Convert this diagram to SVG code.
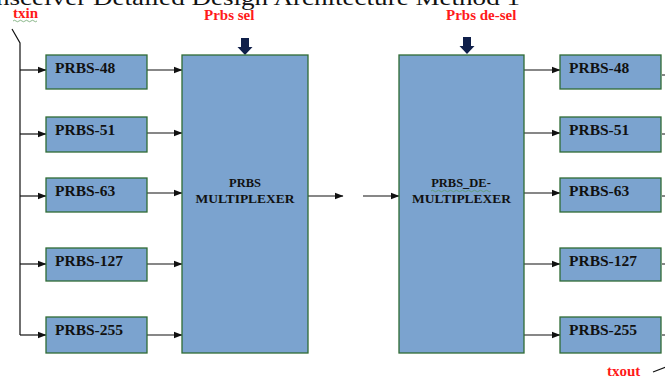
<svg xmlns="http://www.w3.org/2000/svg" width="665" height="378" viewBox="0 0 665 378">
<style>
.box{fill:#7BA3CF;stroke:#2F6B35;stroke-width:1.3}
.lbl{font-family:"Liberation Serif",serif;font-weight:bold;font-size:15.5px;fill:#111}
.big{font-family:"Liberation Serif",serif;font-weight:bold;font-size:12.5px;fill:#111;text-anchor:middle}
.red{font-family:"Liberation Serif",serif;font-weight:bold;font-size:15px;fill:#FF1A1A}
.ln{stroke:#111;stroke-width:1.2;fill:none}
.sel{fill:#0F1F4A}
</style>
<defs>
<marker id="ah" markerWidth="9" markerHeight="8" refX="8.5" refY="4" orient="auto" markerUnits="userSpaceOnUse">
<path d="M0,0.5 L9,4 L0,7.5 Z" fill="#111"/>
</marker>
</defs>
<text x="-4" y="5" font-family="Liberation Serif, serif" font-size="22" fill="#111" textLength="524" lengthAdjust="spacingAndGlyphs">nsceiver Detailed Design Architecture Method 1</text>
<g id="labels">
<text class="red" x="13" y="18" font-size="13">txin</text>
<path d="M13,21 q1.5,-1.5 3,0 t3,0 t3,0 t3,0 t3,0 t3,0 t3,0 t3,0" stroke="#5a9a5a" stroke-width="0.7" fill="none"/>
<text class="red" x="204" y="20">Prbs sel</text>
<text class="red" x="446" y="20">Prbs de-sel</text>
<text class="red" x="607" y="376">txout</text>
</g>
<g id="selarrows">
<path class="sel" d="M241,38 H249 V47 H252.5 L245,55 L237.5,47 H241 Z"/>
<path class="sel" d="M463,37 H471 V46 H474.5 L467,54 L459.5,46 H463 Z"/>
</g>
<g id="connectors">
<path class="ln" d="M12,29 L20,43 V335"/>
<path class="ln" d="M20,70 H46" marker-end="url(#ah)"/>
<path class="ln" d="M20,134 H46" marker-end="url(#ah)"/>
<path class="ln" d="M20,196 H46" marker-end="url(#ah)"/>
<path class="ln" d="M20,264 H46" marker-end="url(#ah)"/>
<path class="ln" d="M20,335 H46" marker-end="url(#ah)"/>
<path class="ln" d="M147,70 H182" marker-end="url(#ah)"/>
<path class="ln" d="M147,133 H182" marker-end="url(#ah)"/>
<path class="ln" d="M147,193 H182" marker-end="url(#ah)"/>
<path class="ln" d="M147,264 H182" marker-end="url(#ah)"/>
<path class="ln" d="M147,335 H182" marker-end="url(#ah)"/>
<path class="ln" d="M308,196 H343" marker-end="url(#ah)"/>
<path class="ln" d="M363,196 H399" marker-end="url(#ah)"/>
<path class="ln" d="M524,70 H560" marker-end="url(#ah)"/>
<path class="ln" d="M524,133 H560" marker-end="url(#ah)"/>
<path class="ln" d="M524,193 H560" marker-end="url(#ah)"/>
<path class="ln" d="M524,264 H560" marker-end="url(#ah)"/>
<path class="ln" d="M524,335 H560" marker-end="url(#ah)"/>
<path class="ln" d="M662,75 H666 M662,134 H666 M662,196 H666 M662,264 H666 M662,335 H666"/>
<path class="ln" d="M653,372 L666,367"/>
</g>
<g id="l48"><rect class="box" x="46" y="55" width="101" height="34"/><text class="lbl" x="55" y="73">PRBS-48</text></g>
<g id="l51"><rect class="box" x="46" y="117" width="101" height="35"/><text class="lbl" x="55" y="135">PRBS-51</text></g>
<g id="l63"><rect class="box" x="46" y="178" width="101" height="34"/><text class="lbl" x="55" y="196">PRBS-63</text></g>
<g id="l127"><rect class="box" x="46" y="248" width="101" height="33"/><text class="lbl" x="55" y="266">PRBS-127</text></g>
<g id="l255"><rect class="box" x="46" y="317" width="101" height="36"/><text class="lbl" x="55" y="335">PRBS-255</text></g>
<g id="mux"><rect class="box" x="182" y="55" width="126" height="298"/>
<text class="big" x="245" y="187">PRBS</text>
<text class="big" x="245" y="203" textLength="99" lengthAdjust="spacingAndGlyphs">MULTIPLEXER</text></g>
<g id="demux"><rect class="box" x="399" y="55" width="125" height="298"/>
<text class="big" x="461" y="187">PRBS_DE-</text>
<path d="M431,191 q1.5,-1.5 3,0 t3,0 t3,0 t3,0 t3,0 t3,0 t3,0 t3,0 t3,0 t3,0 t3,0 t3,0 t3,0 t3,0 t3,0 t3,0 t3,0 t3,0 t3,0 t3,0" stroke="#5a9a5a" stroke-width="0.7" fill="none"/>
<text class="big" x="461.5" y="203" textLength="99" lengthAdjust="spacingAndGlyphs">MULTIPLEXER</text></g>
<g id="r48"><rect class="box" x="560" y="55" width="101" height="34"/><text class="lbl" x="569" y="73">PRBS-48</text></g>
<g id="r51"><rect class="box" x="560" y="117" width="101" height="35"/><text class="lbl" x="569" y="135">PRBS-51</text></g>
<g id="r63"><rect class="box" x="560" y="178" width="101" height="34"/><text class="lbl" x="569" y="196">PRBS-63</text></g>
<g id="r127"><rect class="box" x="560" y="248" width="101" height="33"/><text class="lbl" x="569" y="266">PRBS-127</text></g>
<g id="r255"><rect class="box" x="560" y="317" width="101" height="36"/><text class="lbl" x="569" y="335">PRBS-255</text></g>
</svg>
